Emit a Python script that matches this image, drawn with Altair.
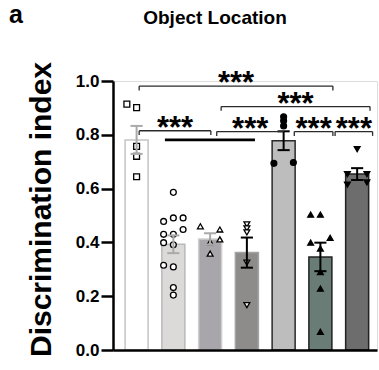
import altair as alt
import pandas as pd

# ---------------- data ----------------
groups = ["G1", "G2", "G3", "G4", "G5", "G6", "G7"]
means = [0.781, 0.393, 0.413, 0.362, 0.778, 0.346, 0.654]
sems = [0.052, 0.033, 0.021, 0.056, 0.035, 0.053, 0.022]

point_values = [
    [0.914, 0.901, 0.757, 0.720, 0.644],
    [0.586, 0.478, 0.491, 0.491, 0.430, 0.430, 0.448, 0.399, 0.391, 0.315, 0.309, 0.232, 0.204],
    [0.460, 0.401, 0.448, 0.411, 0.358],
    [0.467, 0.452, 0.437, 0.325, 0.167],
    [0.867, 0.852, 0.833, 0.694, 0.697],
    [0.503, 0.503, 0.399, 0.417, 0.377, 0.290, 0.228, 0.068],
    [0.747, 0.654, 0.615, 0.654, 0.623],
]
point_jitter = [
    [-1, 0, 0, 0, 0],
    [0, -1, 0, 1, -1, 0, 1, -1, 0, -1, 0, 0, 0],
    [-1, 0, 1, 1, 0],
    [0, 0, 0, 0, 0],
    [0, 0, 0, -1, 1],
    [-1, 0, -1, 1, 0, 0, 0, 0],
    [0, -1, -1, 1, 1],
]

# significance brackets (ends in units of group position)
bracket_start = [0.07, 2.30, 0.07, 2.18, 4.29, 5.40]
bracket_end = [5.34, 6.35, 2.02, 4.00, 5.34, 6.42]
bracket_level = [0.981, 0.905, 0.815, 0.812, 0.812, 0.812]
bracket_label = ["***", "***", "***", "***", "***", "***"]
bracket_right_tick = [True, True, True, False, True, True]

span_start = [0.77]
span_end = [3.22]
span_level = [0.781]

tick_values = [0.0, 0.2, 0.4, 0.6, 0.8, 1.0]

# ---------------- styles ----------------
bar_fill = ["#ffffff", "#dcd9d9", "#a8a6aa", "#8e8c8b", "#bdbdbd", "#6a7c76", "#6d6d6d"]
bar_stroke = ["#c4c4c4", "#b9b9b9", "#cfcfcf", "#a3a3a3", "#2a2a2a", "#222222", "#222222"]
err_color = ["#a9a9a9", "#a9a9a9", "#a9a9a9", "#000000", "#000000", "#000000", "#000000"]
pt_shape = ["square", "circle", "triangle-up", "triangle-down", "circle", "triangle-up", "triangle-down"]
pt_fill = ["#ffffff", "#ffffff", "#ffffff", "#ffffff", "#000000", "#000000", "#000000"]

FONT = "Liberation Sans"

# ---------------- tables ----------------
bars = pd.DataFrame({"group": groups, "gi": list(range(len(groups))),
                     "mean": means, "sem": sems})
rows = []
for gi, (vals, jits) in enumerate(zip(point_values, point_jitter)):
    for v, j in zip(vals, jits):
        rows.append({"group": groups[gi], "gi": gi, "value": v, "jit": j})
pts = pd.DataFrame(rows)
br = pd.DataFrame({"x1": bracket_start, "x2": bracket_end, "y": bracket_level,
                   "label": bracket_label, "rt": bracket_right_tick})
span = pd.DataFrame({"x1": span_start, "x2": span_end, "y": span_level})

xscale = alt.Scale(domain=[-0.642, 6.54], nice=False, zero=False)
yscale = alt.Scale(domain=[0, 1], nice=False, zero=True)
xaxis = alt.Axis(title=None, labels=False, ticks=False, grid=False, domain=True,
                 domainColor="black", domainWidth=2.5, zindex=1)
yaxis = alt.Axis(title="Discrimination index", values=tick_values, format=".1f",
                 grid=False, tickSize=12, tickWidth=2.5, tickColor="black",
                 domainColor="black", domainWidth=2.5, zindex=1,
                 labelFont=FONT, labelFontWeight="bold", labelFontSize=17,
                 labelColor="black", labelPadding=2,
                 titleFont=FONT, titleFontWeight="bold", titleFontSize=30,
                 titleColor="black", titlePadding=19, titleY=128)


def X(field):
    return alt.X(field, type="quantitative", scale=xscale, axis=xaxis)


def Y(field):
    return alt.Y(field, type="quantitative", scale=yscale, axis=yaxis)


bar_layer = alt.Chart(bars).transform_calculate(
    bx1="datum.gi - 0.313", bx2="datum.gi + 0.313", zero="0"
).mark_rect(strokeWidth=1.5).encode(
    x=X("bx1"), x2="bx2", y=Y("mean"), y2="zero:Q",
    fill=alt.Fill("group:N", scale=alt.Scale(domain=groups, range=bar_fill), legend=None),
    stroke=alt.Stroke("group:N", scale=alt.Scale(domain=groups, range=bar_stroke), legend=None),
)

pt_layer = alt.Chart(pts).transform_calculate(
    px="datum.gi + 0.265 * datum.jit"
).mark_point(size=34, strokeWidth=1.3, opacity=1).encode(
    x=X("px"), y=Y("value"),
    shape=alt.Shape("group:N", scale=alt.Scale(domain=groups, range=pt_shape), legend=None),
    fill=alt.Fill("group:N", scale=alt.Scale(domain=groups, range=pt_fill), legend=None),
    stroke=alt.value("black"),
)

err_base = alt.Chart(bars).transform_calculate(
    lo="datum.mean - datum.sem", hi="datum.mean + datum.sem",
    c1="datum.gi - 0.165", c2="datum.gi + 0.165"
)
err_stroke = alt.Stroke("group:N", scale=alt.Scale(domain=groups, range=err_color), legend=None)
err_v = err_base.mark_rule(strokeWidth=2).encode(x=X("gi"), y=Y("lo"), y2="hi:Q", stroke=err_stroke)
err_hi = err_base.mark_rule(strokeWidth=2).encode(x=X("c1"), x2="c2:Q", y=Y("hi"), stroke=err_stroke)
err_lo = err_base.mark_rule(strokeWidth=2).encode(x=X("c1"), x2="c2:Q", y=Y("lo"), stroke=err_stroke)

br_base = alt.Chart(br).transform_calculate(
    ytick="datum.y - 0.016", xm="(datum.x1 + datum.x2) / 2"
)
br_h = br_base.mark_rule(strokeWidth=1.3, color="#2b2b2b").encode(x=X("x1"), x2="x2:Q", y=Y("y"))
br_l = br_base.mark_rule(strokeWidth=1.3, color="#2b2b2b").encode(x=X("x1"), y=Y("y"), y2="ytick:Q")
br_r = br_base.transform_filter("datum.rt").mark_rule(strokeWidth=1.3, color="#2b2b2b").encode(
    x=X("x2"), y=Y("y"), y2="ytick:Q")
br_t = br_base.mark_text(font=FONT, fontWeight="bold", fontSize=31, baseline="alphabetic",
                         dy=7, color="black").encode(x=X("xm"), y=Y("y"), text="label:N")

span_layer = alt.Chart(span).mark_rule(strokeWidth=2.8, color="black").encode(
    x=X("x1"), x2="x2:Q", y=Y("y"))

panel = alt.Chart(pd.DataFrame({"t": ["a"]})).mark_text(
    font=FONT, fontWeight="bold", fontSize=25, align="left", baseline="alphabetic", color="black"
).encode(x=alt.value(-104), y=alt.value(-58), text="t:N")

chart = alt.layer(
    bar_layer, pt_layer, err_v, err_hi, err_lo, br_h, br_l, br_r, br_t, span_layer, panel
).resolve_scale(
    fill="independent", stroke="independent", shape="independent"
).properties(
    width=264, height=269,
    padding={"left": 113, "top": 81, "right": 2, "bottom": 20},
    autosize=alt.AutoSizeParams(type="none"),
    title=alt.TitleParams(text="Object Location", font=FONT, fontSize=19, fontWeight="bold",
                          color="black", anchor="middle", dx=-30, offset=-25),
).configure_view(stroke=None).configure(background="white")

chart.save("out.html", embed_options={"renderer": "svg", "actions": False})
